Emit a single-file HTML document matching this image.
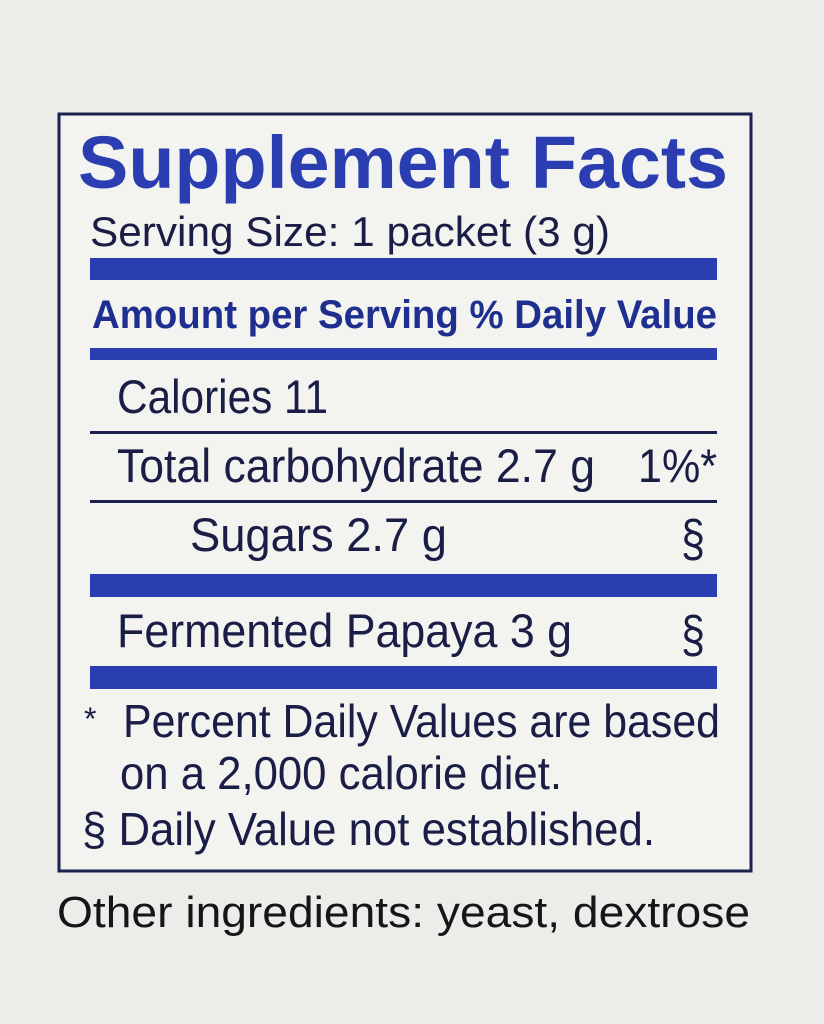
<!DOCTYPE html>
<html><head><meta charset="utf-8"><style>
html,body{margin:0;padding:0;background:#ecece8;}
svg{display:block}
text{font-family:"Liberation Sans",Arial,sans-serif;}
</style></head><body>
<svg width="824" height="1024" viewBox="0 0 824 1024" xmlns="http://www.w3.org/2000/svg">
<rect x="0" y="0" width="824" height="1024" fill="#ecece8"/>
<rect x="59" y="114" width="692" height="757" fill="#f3f3ef" stroke="#1c2150" stroke-width="3"/>
<g fill="#2a3eb2">
<text x="78" y="188" font-size="74" font-weight="bold" textLength="650" lengthAdjust="spacingAndGlyphs">Supplement Facts</text>
<rect x="90" y="258" width="627" height="22"/>
<rect x="90" y="348" width="627" height="12"/>
<rect x="90" y="574" width="627" height="23"/>
<rect x="90" y="666" width="627" height="23"/>
</g>
<rect x="90" y="431" width="627" height="3" fill="#1c2150"/>
<rect x="90" y="500" width="627" height="3" fill="#1c2150"/>
<g fill="#1a1d45">
<text x="90" y="246" font-size="42" textLength="520" lengthAdjust="spacingAndGlyphs">Serving Size: 1 packet (3 g)</text>
<text x="92" y="328" font-size="40" font-weight="bold" fill="#1f2f8f" textLength="625" lengthAdjust="spacingAndGlyphs">Amount per Serving % Daily Value</text>
<text x="117" y="413" font-size="47" textLength="211" lengthAdjust="spacingAndGlyphs">Calories 11</text>
<text x="117" y="482" font-size="47" textLength="478" lengthAdjust="spacingAndGlyphs">Total carbohydrate  2.7 g</text>
<text x="638" y="482" font-size="47" textLength="79" lengthAdjust="spacingAndGlyphs">1%*</text>
<text x="190" y="551" font-size="47" textLength="257" lengthAdjust="spacingAndGlyphs">Sugars  2.7 g</text>
<text x="681" y="556" font-size="52" textLength="24" lengthAdjust="spacingAndGlyphs">§</text>
<text x="117" y="647" font-size="47" textLength="455" lengthAdjust="spacingAndGlyphs">Fermented Papaya  3 g</text>
<text x="681" y="652" font-size="52" textLength="24" lengthAdjust="spacingAndGlyphs">§</text>
<text x="84" y="730" font-size="32">*</text>
<text x="123" y="737" font-size="46" textLength="597" lengthAdjust="spacingAndGlyphs">Percent Daily Values are based</text>
<text x="120" y="789" font-size="46" textLength="442" lengthAdjust="spacingAndGlyphs">on a 2,000 calorie diet.</text>
<text x="82" y="845" font-size="46" textLength="573" lengthAdjust="spacingAndGlyphs">§ Daily Value not established.</text>
</g>
<text x="57" y="927" font-size="44" fill="#16161a" textLength="693" lengthAdjust="spacingAndGlyphs">Other ingredients: yeast, dextrose</text>
</svg>
</body></html>
